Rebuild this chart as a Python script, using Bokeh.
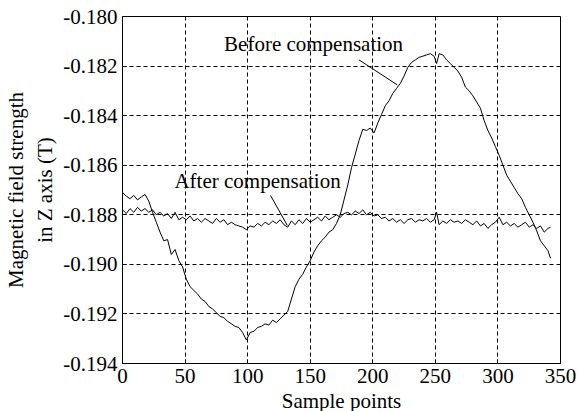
from bokeh.plotting import figure
from bokeh.models import FixedTicker, Range1d, Label, NumeralTickFormatter
from bokeh.embed import file_html
from bokeh.resources import INLINE

samples_b = [0, 3, 6, 9, 12, 15, 18, 21, 24, 27, 30, 33, 36, 39, 42, 45, 48, 51, 54, 57,
             60, 63, 66, 69, 72, 75, 78, 81, 84, 87, 90, 93, 96, 99, 102, 105, 108, 111, 114, 117,
             120, 123, 126, 129, 132, 135, 138, 141, 144, 147, 150, 153, 156, 159, 162, 165, 168, 171, 174, 177,
             180, 183, 186, 189, 192, 195, 198, 201, 204, 207, 210, 213, 216, 219, 222, 225, 228, 231, 234, 237,
             240, 243, 246, 249, 251, 253, 256, 259, 262, 265, 268, 271, 274, 277, 280, 283, 286, 289, 292, 295,
             298, 301, 304, 307, 310, 313, 316, 319, 322, 325, 328, 331, 334, 337, 340, 342]
before = [-0.18710, -0.18725, -0.18735, -0.18722, -0.18740, -0.18728, -0.18718, -0.18745, -0.18790, -0.18830,
          -0.18870, -0.18905, -0.18900, -0.18960, -0.18940, -0.18985, -0.19010, -0.19060, -0.19090, -0.19105,
          -0.19120, -0.19140, -0.19150, -0.19170, -0.19180, -0.19195, -0.19210, -0.19215, -0.19230, -0.19240,
          -0.19250, -0.19255, -0.19275, -0.19305, -0.19275, -0.19270, -0.19255, -0.19250, -0.19240, -0.19245,
          -0.19225, -0.19235, -0.19220, -0.19205, -0.19190, -0.19140, -0.19090, -0.19060, -0.19040, -0.19010,
          -0.18985, -0.18950, -0.18925, -0.18905, -0.18890, -0.18870, -0.18860, -0.18835, -0.18800, -0.18740,
          -0.18680, -0.18610, -0.18555, -0.18500, -0.18455, -0.18460, -0.18450, -0.18470, -0.18430, -0.18395,
          -0.18360, -0.18340, -0.18310, -0.18290, -0.18270, -0.18240, -0.18205, -0.18185, -0.18175, -0.18165,
          -0.18160, -0.18155, -0.18150, -0.18160, -0.18190, -0.18150, -0.18155, -0.18175, -0.18190, -0.18205,
          -0.18220, -0.18245, -0.18285, -0.18300, -0.18320, -0.18345, -0.18370, -0.18420, -0.18460, -0.18490,
          -0.18525, -0.18560, -0.18600, -0.18640, -0.18665, -0.18690, -0.18715, -0.18735, -0.18770, -0.18800,
          -0.18830, -0.18865, -0.18905, -0.18925, -0.18945, -0.18975]

samples_a = samples_b
after = [-0.18780, -0.18795, -0.18775, -0.18790, -0.18770, -0.18785, -0.18775, -0.18790, -0.18780, -0.18800,
         -0.18790, -0.18805, -0.18795, -0.18815, -0.18790, -0.18820, -0.18810, -0.18820, -0.18805, -0.18825,
         -0.18815, -0.18830, -0.18815, -0.18825, -0.18835, -0.18815, -0.18830, -0.18820, -0.18840, -0.18830,
         -0.18840, -0.18845, -0.18850, -0.18860, -0.18845, -0.18850, -0.18835, -0.18845, -0.18830, -0.18840,
         -0.18825, -0.18835, -0.18820, -0.18840, -0.18850, -0.18825, -0.18840, -0.18820, -0.18835, -0.18815,
         -0.18830, -0.18820, -0.18810, -0.18825, -0.18805, -0.18820, -0.18810, -0.18800, -0.18810, -0.18795,
         -0.18790, -0.18800, -0.18785, -0.18795, -0.18780, -0.18800, -0.18790, -0.18805, -0.18800, -0.18815,
         -0.18810, -0.18825, -0.18815, -0.18830, -0.18820, -0.18835, -0.18820, -0.18815, -0.18830, -0.18820,
         -0.18825, -0.18815, -0.18830, -0.18820, -0.18790, -0.18840, -0.18825, -0.18835, -0.18820, -0.18830,
         -0.18825, -0.18835, -0.18820, -0.18830, -0.18840, -0.18825, -0.18845, -0.18835, -0.18855, -0.18840,
         -0.18830, -0.18810, -0.18840, -0.18830, -0.18845, -0.18835, -0.18850, -0.18840, -0.18830, -0.18850,
         -0.18840, -0.18855, -0.18845, -0.18870, -0.18855, -0.18850]

x_ticks = [0, 50, 100, 150, 200, 250, 300, 350]
y_ticks = [-0.194, -0.192, -0.190, -0.188, -0.186, -0.184, -0.182, -0.180]

labels = ["Before compensation", "After compensation"]
label_x = [152.7, 107.9]
label_y = [-0.18109, -0.18662]
pointer_x = [[189.0, 219.6], [118.3, 131.7]]
pointer_y = [[-0.18175, -0.18276], [-0.18722, -0.18843]]

FONT = "Liberation Serif"
FS = "21px"

p = figure(width=579, height=411, output_backend="svg", toolbar_location=None,
           x_range=Range1d(0, 350), y_range=Range1d(-0.194, -0.180),
           min_border_left=122, min_border_right=19, min_border_top=16, min_border_bottom=48)
p.frame_width = 438
p.frame_height = 347

p.line(samples_b, before, line_color="black", line_width=1)
p.line(samples_a, after, line_color="black", line_width=1)
for xs, ys in zip(pointer_x, pointer_y):
    p.line(xs, ys, line_color="black", line_width=1)
for t, lx, ly in zip(labels, label_x, label_y):
    p.add_layout(Label(x=lx, y=ly, text=t, text_font=FONT, text_font_size=FS,
                       text_align="center", text_baseline="middle", text_color="black"))

p.xaxis.ticker = FixedTicker(ticks=x_ticks)
p.yaxis.ticker = FixedTicker(ticks=y_ticks)
p.yaxis.formatter = NumeralTickFormatter(format="0.000")
for ax in (p.xaxis[0], p.yaxis[0]):
    ax.major_label_text_font = FONT
    ax.major_label_text_font_size = FS
    ax.major_label_text_color = "black"
    ax.axis_label_text_font = FONT
    ax.axis_label_text_font_size = FS
    ax.axis_label_text_font_style = "normal"
    ax.axis_label_text_color = "black"
    ax.major_tick_in = 4
    ax.major_tick_out = 0
    ax.minor_tick_line_color = None
    ax.axis_line_color = "black"
    ax.major_tick_line_color = "black"
    ax.major_label_standoff = 5
    ax.axis_label_standoff = 3
p.xaxis.axis_label = "Sample points"
p.yaxis.axis_label = "Magnetic field strength\nin Z axis (T)"

p.grid.grid_line_color = "black"
p.grid.grid_line_dash = "4 3"
p.grid.grid_line_width = 1
p.outline_line_color = "black"
p.outline_line_width = 1
p.background_fill_color = "white"
p.border_fill_color = "white"

open("out.html", "w").write(file_html(p, INLINE))
